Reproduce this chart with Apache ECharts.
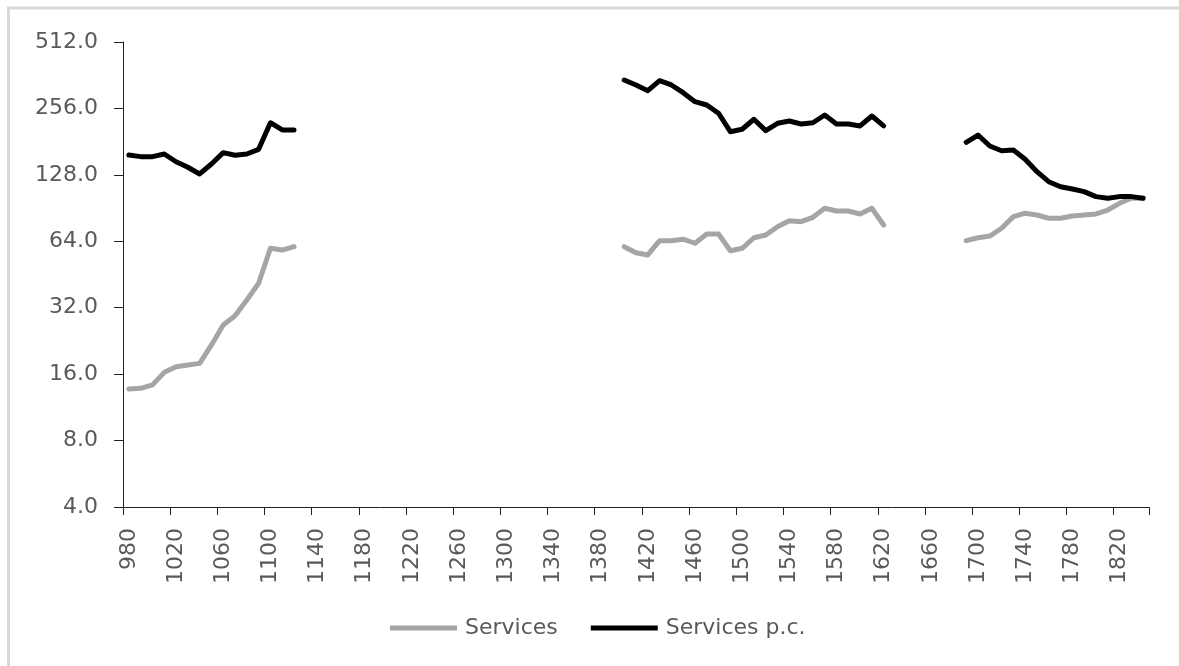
<!DOCTYPE html>
<html>
<head>
<meta charset="utf-8">
<title>Services</title>
<script src="https://cdn.jsdelivr.net/npm/echarts@6/dist/echarts.min.js"></script>
<style>
  html, body { margin: 0; padding: 0; background: #fff; }
  #chart { width: 1179px; height: 666px; }
</style>
</head>
<body>
<div id="chart"></div>
<script>
// Decade categories, 980 to 1840
var years = [
  '980','990','1000','1010','1020','1030','1040','1050','1060','1070',
  '1080','1090','1100','1110','1120','1130','1140','1150','1160','1170',
  '1180','1190','1200','1210','1220','1230','1240','1250','1260','1270',
  '1280','1290','1300','1310','1320','1330','1340','1350','1360','1370',
  '1380','1390','1400','1410','1420','1430','1440','1450','1460','1470',
  '1480','1490','1500','1510','1520','1530','1540','1550','1560','1570',
  '1580','1590','1600','1610','1620','1630','1640','1650','1660','1670',
  '1680','1690','1700','1710','1720','1730','1740','1750','1760','1770',
  '1780','1790','1800','1810','1820','1830','1840'
];

// Services (index level); null where no observation exists
var services = [
  13.7, 13.8, 14.3, 16.3, 17.3, 17.6, 17.9, 21.7, 26.7, 29.4,
  34.7, 41.3, 59.5, 58.4, 60.5,
  null, null, null, null, null, null, null, null, null, null,
  null, null, null, null, null, null, null, null, null, null,
  null, null, null, null, null, null, null,
  60.5, 56.8, 55.5, 64.4, 64.4, 65.4, 62.7, 69.1, 69.1, 58.0,
  59.5, 66.4, 68.3, 74.5, 79.3, 78.5, 82.2, 90.3, 87.8, 87.8,
  85.1, 90.3, 75.9,
  null, null, null, null, null, null,
  64.4, 66.4, 67.6, 73.3, 82.8, 85.8, 84.2, 81.4, 81.4, 83.3,
  84.2, 85.1, 88.7, 95.1, 100.3, 100.3
];

// Services per capita
var servicesPc = [
  157.5, 154.8, 154.8, 159.1, 146.8, 138.5, 129.2, 143.4, 161.4, 157.0,
  159.1, 167.1, 220.5, 204.5, 204.5,
  null, null, null, null, null, null, null, null, null, null,
  null, null, null, null, null, null, null, null, null, null,
  null, null, null, null, null, null, null,
  344.4, 327.0, 308.0, 342.0, 327.0, 301.7, 274.6, 265.4, 243.4, 200.8,
  206.0, 228.6, 203.0, 219.2, 224.5, 217.7, 220.5, 239.0, 217.7, 217.7,
  213.2, 236.6, 213.2,
  null, null, null, null, null, null,
  179.8, 194.0, 173.0, 164.7, 165.9, 150.6, 132.3, 119.2, 113.1, 110.4,
  107.4, 102.0, 100.3, 102.0, 102.0, 100.3
];

var seriesNames = ['Services', 'Services p.c.'];

var textColor = '#595959';
var axisColor = '#222222';
var fontFamily = '"DejaVu Sans", sans-serif';

var chart = echarts.init(document.getElementById('chart'), null, { renderer: 'canvas' });

chart.setOption({
  animation: false,
  backgroundColor: '#ffffff',
  textStyle: { fontFamily: fontFamily },
  graphic: [{
    type: 'rect',
    silent: true,
    shape: { x: 8.5, y: 8, width: 1400, height: 900 },
    style: { fill: null, stroke: '#d9d9d9', lineWidth: 3 }
  }],
  grid: { left: 123, right: 30, top: 42, bottom: 159, containLabel: false },
  legend: {
    left: 390,
    top: 617,
    padding: 0,
    icon: 'rect',
    itemWidth: 67,
    itemHeight: 5,
    itemGap: 33,
    textStyle: { color: textColor, fontSize: 22, fontFamily: fontFamily, padding: [0, 0, 0, 3] },
    data: seriesNames
  },
  xAxis: {
    type: 'category',
    data: years,
    boundaryGap: true,
    axisLine: { show: true, lineStyle: { color: axisColor, width: 1 } },
    axisTick: { show: true, interval: 3, length: 8, lineStyle: { color: axisColor } },
    axisLabel: {
      interval: 3,
      rotate: 90,
      margin: 21,
      color: textColor,
      fontSize: 22,
      fontFamily: fontFamily
    },
    splitLine: { show: false }
  },
  yAxis: {
    type: 'log',
    logBase: 2,
    min: 4,
    max: 512,
    interval: 1,
    axisLine: { show: true, lineStyle: { color: axisColor, width: 1 } },
    axisTick: { show: true, length: 9, lineStyle: { color: axisColor } },
    axisLabel: {
      margin: 25,
      color: textColor,
      fontSize: 22,
      fontFamily: fontFamily,
      formatter: function (v) { return Number(v).toFixed(1); }
    },
    splitLine: { show: false }
  },
  series: [
    {
      name: seriesNames[0],
      type: 'line',
      data: services,
      showSymbol: false,
      symbol: 'none',
      connectNulls: false,
      color: '#a5a5a5',
      lineStyle: { color: '#a5a5a5', width: 5, join: 'round', cap: 'round' }
    },
    {
      name: seriesNames[1],
      type: 'line',
      data: servicesPc,
      showSymbol: false,
      symbol: 'none',
      connectNulls: false,
      color: '#000000',
      lineStyle: { color: '#000000', width: 5, join: 'round', cap: 'round' }
    }
  ]
});
</script>
</body>
</html>
